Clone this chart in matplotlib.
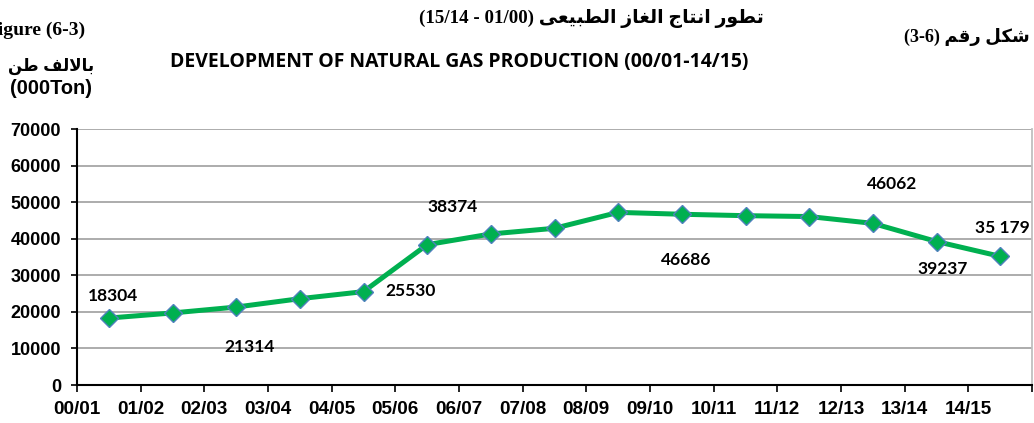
import matplotlib
matplotlib.use('Agg')
import matplotlib.pyplot as plt

# ---------------- data ----------------
years = ['00/01', '01/02', '02/03', '03/04', '04/05', '05/06', '06/07', '07/08',
         '08/09', '09/10', '10/11', '11/12', '12/13', '13/14', '14/15']
production = [18304, 19700, 21314, 23600, 25530, 38374, 41300, 42850,
              47200, 46686, 46300, 46062, 44200, 39237, 35179]
label_index = [0, 2, 4, 5, 9, 12, 13, 14]
label_text = ['18304', '21314', '25530', '38374', '46686', '46062', '39237', '35 179']
y_ticks = [0, 10000, 20000, 30000, 40000, 50000, 60000, 70000]

title_ar = 'تطور انتاج الغاز الطبيعى'
title_ar_num = '(15/14 - 01/00)'
title_en = 'DEVELOPMENT OF NATURAL GAS PRODUCTION (00/01-14/15)'
fig_ar = 'شكل رقم'
fig_ar_num = '(3-6)'
fig_en = 'Figure (6-3)'
unit_ar = 'بالالف طن'
unit_en = '(000Ton)'

# ---------------- minimal Arabic shaping (matplotlib has no text shaping) ----------------
FORMS = {
    'ا': ('\uFE8D', '\uFE8E', None, None),
    'ب': ('\uFE8F', '\uFE90', '\uFE91', '\uFE92'),
    'ت': ('\uFE95', '\uFE96', '\uFE97', '\uFE98'),
    'ج': ('\uFE9D', '\uFE9E', '\uFE9F', '\uFEA0'),
    'ر': ('\uFEAD', '\uFEAE', None, None),
    'ز': ('\uFEAF', '\uFEB0', None, None),
    'ش': ('\uFEB5', '\uFEB6', '\uFEB7', '\uFEB8'),
    'ط': ('\uFEC1', '\uFEC2', '\uFEC3', '\uFEC4'),
    'ع': ('\uFEC9', '\uFECA', '\uFECB', '\uFECC'),
    'غ': ('\uFECD', '\uFECE', '\uFECF', '\uFED0'),
    'ف': ('\uFED1', '\uFED2', '\uFED3', '\uFED4'),
    'ق': ('\uFED5', '\uFED6', '\uFED7', '\uFED8'),
    'ك': ('\uFED9', '\uFEDA', '\uFEDB', '\uFEDC'),
    'ل': ('\uFEDD', '\uFEDE', '\uFEDF', '\uFEE0'),
    'م': ('\uFEE1', '\uFEE2', '\uFEE3', '\uFEE4'),
    'ن': ('\uFEE5', '\uFEE6', '\uFEE7', '\uFEE8'),
    'و': ('\uFEED', '\uFEEE', None, None),
    'ى': ('\uFEEF', '\uFEF0', None, None),
    'ي': ('\uFEF1', '\uFEF2', '\uFEF3', '\uFEF4'),
    'لا': ('\uFEFB', '\uFEFC', None, None),
}


def shape_word(word):
    toks = []
    i = 0
    while i < len(word):
        if word[i] == 'ل' and i + 1 < len(word) and word[i + 1] == 'ا':
            toks.append('لا')
            i += 2
        else:
            toks.append(word[i])
            i += 1
    out = []
    for k, t in enumerate(toks):
        f = FORMS[t]
        prev = k > 0 and FORMS[toks[k - 1]][2] is not None
        nxt = k < len(toks) - 1 and f[2] is not None
        if prev and nxt:
            g = f[3]
        elif prev:
            g = f[1]
        elif nxt:
            g = f[2]
        else:
            g = f[0]
        out.append(g)
    return ''.join(reversed(out))


def rtl(text):
    return ' '.join(shape_word(w) for w in reversed(text.split(' ')))


# ---------------- figure ----------------
W, H = 1034, 423
fig = plt.figure(figsize=(W / 100, H / 100), dpi=100)
ax = fig.add_axes([77 / W, 38 / H, 955 / W, 256 / H])

xs = [i + 0.5 for i in range(len(years))]
ax.plot(xs, production, color='#00B050', lw=3.6, marker='D', markersize=9.5,
        markerfacecolor='#00B050', markeredgecolor='#4F81BD', markeredgewidth=1.0,
        zorder=5, clip_on=False)

ax.set_xlim(0, len(years))
ax.set_ylim(0, 70000)
ax.set_yticks(y_ticks)
ax.set_yticklabels([str(v) for v in y_ticks])
ax.set_xticks(range(len(years) + 1))
ax.set_xticklabels(years + [''])

for lab in ax.get_yticklabels():
    lab.set_fontfamily('Liberation Sans')
    lab.set_fontweight('bold')
    lab.set_fontsize(13)
for lab in ax.get_xticklabels():
    lab.set_fontfamily('Liberation Sans')
    lab.set_fontweight('bold')
    lab.set_fontsize(13.6)

ax.tick_params(axis='y', direction='out', length=4.5, width=1.2, pad=7, colors='black')
ax.tick_params(axis='x', direction='out', length=5, width=1.2, pad=6.5, colors='black')

ax.grid(axis='y', color='#a6a6a6', lw=1.3)
ax.set_axisbelow(True)
ax.spines['top'].set_visible(False)
ax.spines['right'].set_color('#bfbfbf')
ax.spines['right'].set_linewidth(1.3)
ax.spines['left'].set_linewidth(1.5)
ax.spines['bottom'].set_linewidth(1.5)

# data labels
label_offsets_px = {0: (4, 22), 2: (13, -40), 4: (47, 1), 5: (25, 38),
                    9: (4, -46), 12: (19, 39), 13: (6, -27), 14: (2, 28)}
for idx, txt in zip(label_index, label_text):
    dx, dy = label_offsets_px[idx]
    ax.annotate(txt, (xs[idx], production[idx]), xytext=(dx * 0.72, dy * 0.72),
                textcoords='offset points', ha='center', va='center',
                fontfamily='Lato', fontweight='bold', fontsize=12.5, color='black',
                zorder=6, annotation_clip=False)

# titles and header texts
ar_family = ['Liberation Serif', 'DejaVu Sans']
t_title = fig.text(591 / W, 1 - 18 / H, title_ar_num + ' ' + rtl(title_ar),
                   ha='center', va='center', family=ar_family, fontweight='bold', fontsize=12)
t_en = fig.text(459 / W, 1 - 62 / H, title_en, ha='center', va='center',
                family='Open Sans', fontweight='bold', fontsize=15)
t_fig_ar = fig.text(1030 / W, 1 - 37 / H, fig_ar_num + ' ' + rtl(fig_ar),
                    ha='right', va='center', family=ar_family, fontweight='bold', fontsize=13)
t_fig_en = fig.text(85 / W, 1 - 30 / H, fig_en, ha='right', va='center',
                    family='Liberation Serif', fontweight='bold', fontsize=14)
t_unit_ar = fig.text(51 / W, 1 - 66 / H, rtl(unit_ar), ha='center', va='center',
                     family=['Liberation Sans', 'DejaVu Sans'], fontweight='bold', fontsize=12)
t_unit_en = fig.text(51 / W, 1 - 88 / H, unit_en, ha='center', va='center',
                     family='Liberation Sans', fontweight='bold', fontsize=13)

# scale header fonts to match the reference widths
fig.canvas.draw()
r = fig.canvas.get_renderer()
for t, target in [(t_title, 343), (t_en, 578), (t_unit_en, 82)]:
    w = t.get_window_extent(r).width
    t.set_fontsize(t.get_fontsize() * target / w)

fig.savefig('out.png', dpi=100)
